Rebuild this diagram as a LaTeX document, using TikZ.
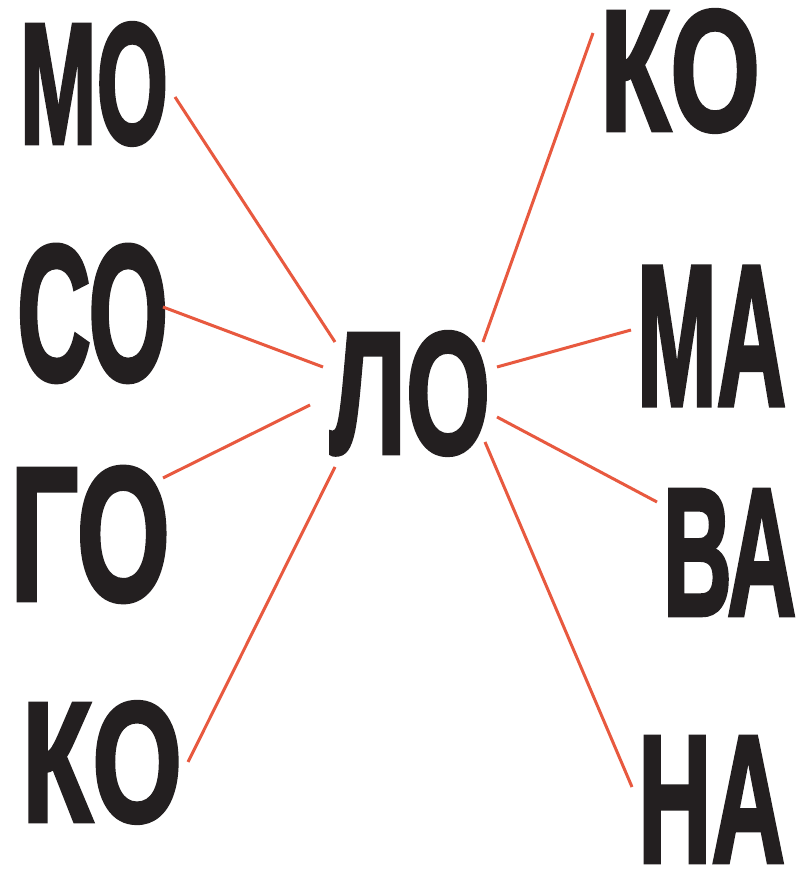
\documentclass[tikz,border=0pt]{standalone}
\usepackage{fontspec}
\usepackage{graphicx}
\newfontfamily\wf{Liberation Sans Bold}[FakeBold=2.5]
\definecolor{ink}{HTML}{231F20}
\definecolor{linkred}{HTML}{E8593F}
\newcommand{\wrd}[3]{\resizebox*{#1pt}{#2pt}{\wf #3}}
\begin{document}
\begin{tikzpicture}[x=1pt,y=1pt,
  word/.style={inner sep=0pt, outer sep=0pt, anchor=south west, text=ink},
  link/.style={draw=linkred, line width=3pt}]
\fill[white] (0,0) rectangle (800,873);
\useasboundingbox (0,0) rectangle (800,873);
% words (y = 873 - pixel bottom)
\node[word] (mo)  at (20,728) {\wrd{148}{122}{МО}};
\node[word] (so)  at (17,491) {\wrd{151}{137}{СО}};
\node[word] (go)  at (10,271) {\wrd{160}{135}{ГО}};
\node[word] (kol) at (22,50)  {\wrd{160}{121}{КО}};
\node[word] (lo)  at (330,418){\wrd{160}{123}{ЛО}};
\node[word] (kor) at (600,741){\wrd{160}{122}{КО}};
\node[word] (ma)  at (637,468){\wrd{149}{138}{МА}};
\node[word] (va)  at (663,258){\wrd{133}{125}{ВА}};
\node[word] (na)  at (638,11) {\wrd{147}{125}{НА}};
% connector end points
\coordinate (moE) at (175,776);
\coordinate (moL) at (335,531);
\coordinate (soE) at (163,566);
\coordinate (soL) at (323,506);
\coordinate (goE) at (163,395);
\coordinate (goL) at (310,468);
\coordinate (kolE) at (188,111);
\coordinate (kolL) at (335,406);
\coordinate (korE) at (593,840);
\coordinate (korL) at (483,531);
\coordinate (maE) at (631,543);
\coordinate (maL) at (497,506);
\coordinate (vaE) at (657,371);
\coordinate (vaL) at (497,456);
\coordinate (naE) at (632,86);
\coordinate (naL) at (485,431);
\draw[link] (moE) -- (moL);
\draw[link] (soE) -- (soL);
\draw[link] (goE) -- (goL);
\draw[link] (kolE) -- (kolL);
\draw[link] (korE) -- (korL);
\draw[link] (maE) -- (maL);
\draw[link] (vaE) -- (vaL);
\draw[link] (naE) -- (naL);
\end{tikzpicture}
\end{document}
